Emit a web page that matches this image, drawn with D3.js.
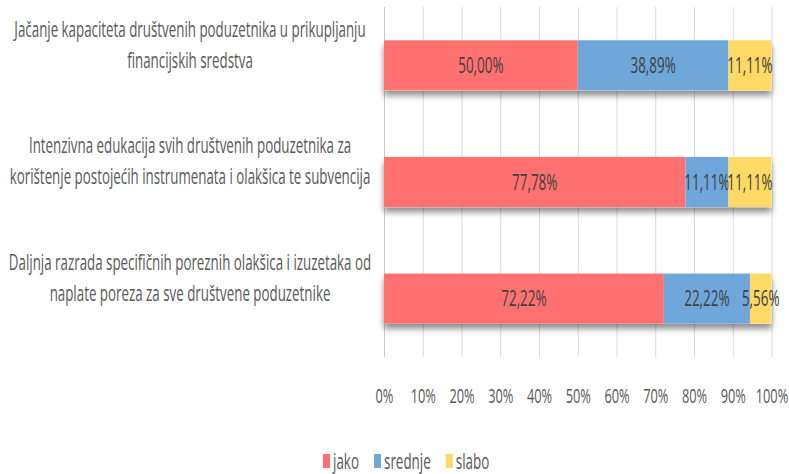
<!DOCTYPE html>
<html>
<head>
<meta charset="utf-8">
<script src="https://cdn.jsdelivr.net/npm/d3@7"></script>
<style>
  body { margin: 0; background: #fff; }
  text { font-family: "Open Sans", sans-serif; }
</style>
</head>
<body>
<div id="chart"></div>
<script>
// chart data
var categoryLines = [
    ["Jačanje kapaciteta društvenih poduzetnika u prikupljanju", "financijskih sredstva"],
    ["Intenzivna edukacija svih društvenih poduzetnika za", "korištenje postojećih instrumenata i olakšica te subvencija"],
    ["Daljnja razrada specifičnih poreznih olakšica i izuzetaka od", "naplate poreza za sve društvene poduzetnike"]
];
var seriesNames = ["jako", "srednje", "slabo"];
var jako = [50.00, 77.78, 72.22];
var srednje = [38.89, 11.11, 22.22];
var slabo = [11.11, 11.11, 5.56];
var xTicks = [0, 10, 20, 30, 40, 50, 60, 70, 80, 90, 100];
var colors = ["#ff7171", "#6fa7da", "#ffd966"];

var width = 789, height = 474;
var sx = 0.64; // text is narrow in the original
var plotTop = 7, plotBottom = 357;

var svg = d3.select("#chart").append("svg")
    .attr("width", width)
    .attr("height", height);

var defs = svg.append("defs");
var filt = defs.append("filter").attr("id", "shadow")
    .attr("x", "-5%").attr("y", "-20%").attr("width", "110%").attr("height", "170%");
filt.append("feDropShadow")
    .attr("dx", 0).attr("dy", 5).attr("stdDeviation", 3)
    .attr("flood-color", "#000").attr("flood-opacity", 0.45);

var x = d3.scaleLinear().domain([0, 100]).range([384, 771.5]);
var y = d3.scaleBand().domain(d3.range(categoryLines.length))
    .range([plotTop, plotBottom]).paddingInner(0.57).paddingOuter(0.285);

// gridlines
svg.append("g").selectAll("line")
    .data(xTicks)
    .enter().append("line")
    .attr("x1", function (d) { return x(d) + 0.5; })
    .attr("x2", function (d) { return x(d) + 0.5; })
    .attr("y1", plotTop)
    .attr("y2", plotBottom)
    .attr("stroke", function (d) { return d == 0 ? "#c8c8c8" : "#d9d9d9"; })
    .attr("stroke-width", 1);

// x axis labels
var xAxis = d3.axisBottom(x)
    .tickValues(xTicks)
    .tickFormat(function (d) { return d + "%"; })
    .tickSize(0);

var gx = svg.append("g")
    .attr("transform", "translate(0," + plotBottom + ")")
    .call(xAxis);
gx.select(".domain").remove();
gx.selectAll("text")
    .attr("y", 46)
    .attr("dy", null)
    .attr("fill", "#595959")
    .style("font-size", "20px")
    .attr("transform", "scale(" + sx + ",1)");

// stack the series
var rows = categoryLines.map(function (c, i) {
    return { idx: i, jako: jako[i], srednje: srednje[i], slabo: slabo[i] };
});
var stacked = d3.stack().keys(seriesNames)(rows);

// shadow under each whole bar
svg.append("g").selectAll("rect")
    .data(rows)
    .enter().append("rect")
    .attr("x", x(0))
    .attr("width", function (d) { return x(d.jako + d.srednje + d.slabo) - x(0); })
    .attr("y", function (d) { return y(d.idx); })
    .attr("height", y.bandwidth())
    .attr("fill", "#fff")
    .attr("filter", "url(#shadow)");

var layers = svg.selectAll("g.layer")
    .data(stacked)
    .enter().append("g")
    .attr("class", "layer")
    .attr("fill", function (d, i) { return colors[i]; });

layers.selectAll("rect")
    .data(function (d) { return d; })
    .enter().append("rect")
    .attr("x", function (d) { return x(d[0]); })
    .attr("width", function (d) { return x(d[1]) - x(d[0]); })
    .attr("y", function (d) { return y(d.data.idx); })
    .attr("height", y.bandwidth());

// data labels
var fmt = function (v) { return v.toFixed(2).replace(".", ",") + "%"; };
layers.selectAll("text")
    .data(function (d) { return d; })
    .enter().append("text")
    .attr("transform", function (d) {
        var cx = (x(d[0]) + x(d[1])) / 2;
        var cy = y(d.data.idx) + y.bandwidth() / 2;
        return "translate(" + cx + "," + cy + ") scale(" + sx + ",1)";
    })
    .attr("text-anchor", "middle")
    .attr("dy", "0.36em")
    .attr("fill", "#404040")
    .style("font-size", "21px")
    .text(function (d) { return fmt(d[1] - d[0]); });

// category labels
var labelX = 190, lineGap = 31;
var labels = svg.append("g").selectAll("g")
    .data(categoryLines)
    .enter().append("g");
labels.selectAll("text")
    .data(function (d, i) { return d.map(function (t, j) { return { t: t, j: j, i: i, n: d.length }; }); })
    .enter().append("text")
    .attr("transform", function (d) {
        var cy = y(d.i) + y.bandwidth() / 2 - 21 + (d.j - (d.n - 1) / 2) * lineGap;
        return "translate(" + labelX + "," + cy + ") scale(" + (sx * 0.97) + ",1)";
    })
    .attr("text-anchor", "middle")
    .attr("dy", "0.36em")
    .attr("fill", "#595959")
    .style("font-size", "21.5px")
    .text(function (d) { return d.t; });

// legend
var legend = svg.append("g");
var lx = 323, ly = 461;
seriesNames.forEach(function (name, i) {
    legend.append("rect")
        .attr("x", lx).attr("y", ly - 7)
        .attr("width", 7).attr("height", 14)
        .attr("fill", colors[i]);
    var t = legend.append("text")
        .attr("transform", "translate(" + (lx + 10) + "," + ly + ") scale(" + sx + ",1)")
        .attr("dy", "0.36em")
        .attr("fill", "#595959")
        .style("font-size", "21px")
        .text(name);
    lx += 10 + t.node().getComputedTextLength() * sx + 15;
});
</script>
</body>
</html>
